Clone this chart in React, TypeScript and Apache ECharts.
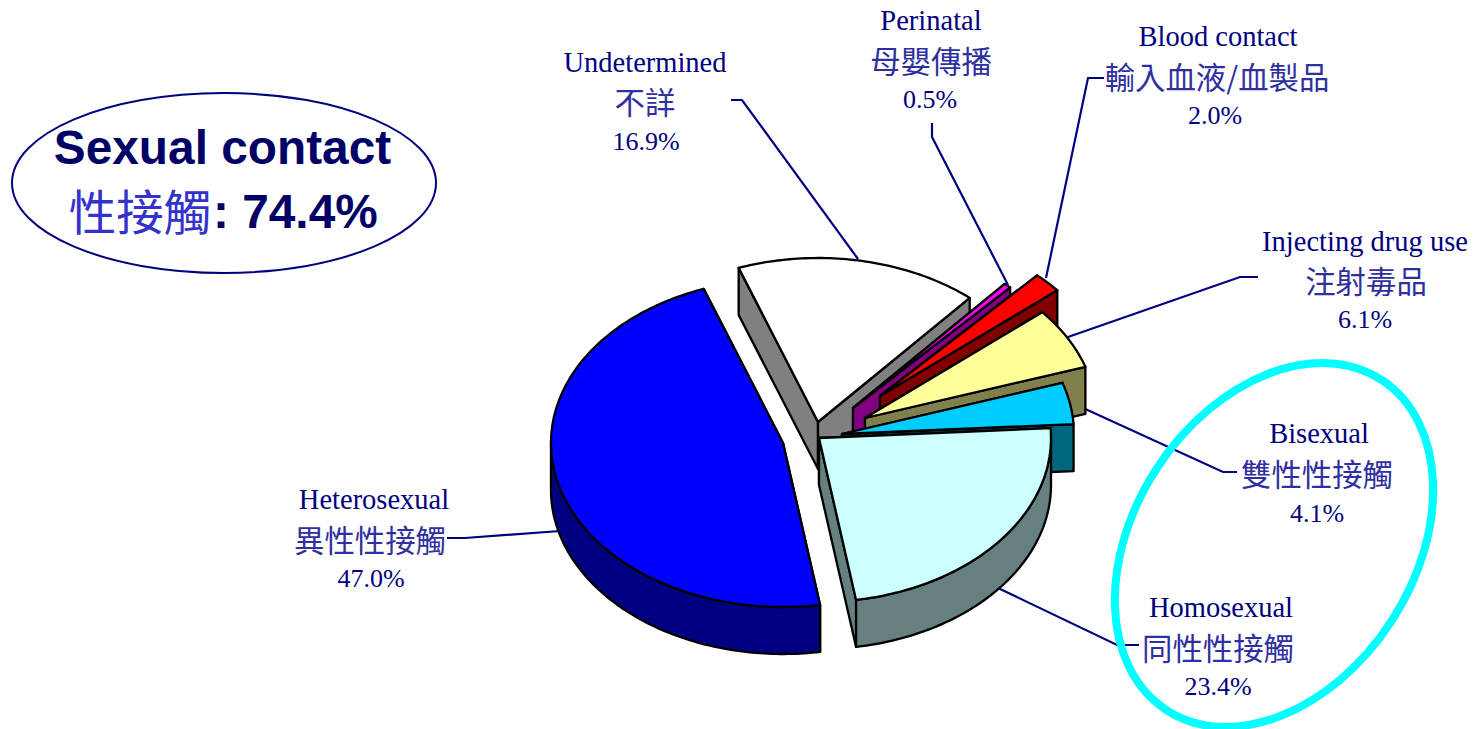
import React, { useEffect, useRef } from "react";
import * as echarts from "echarts";

// Data, in drawing order (clockwise, from the back of the pie)
const namesEn = ["Undetermined", "Perinatal", "Blood contact", "Injecting drug use", "Bisexual", "Homosexual", "Heterosexual"];
const namesZh = ["不詳", "母嬰傳播", "輸入血液/血製品", "注射毒品", "雙性性接觸", "同性性接觸", "異性性接觸"];
const shares = [16.9, 0.5, 2.0, 6.1, 4.1, 23.4, 47.0];
const titleEn = "Sexual contact";
const titleZh = "性接觸";
const titleShare = ": 74.4%";

// Styles
const topColors = ["#FFFFFF", "#FF00FF", "#FF0000", "#FFFF99", "#00CCFF", "#CCFFFF", "#0000FF"];
const sideColors = ["#808080", "#800080", "#800000", "#80804D", "#006680", "#668080", "#000080"];

// Pie geometry: an elliptical pie whose slices are pulled out by different amounts
const RX = 232;
const RY = 164;
const DEPTH = 47;
const START_DEG = -110;
const apexX = [818, 853, 880, 865, 842, 819, 783];
const apexY = [422, 408, 396, 418, 434, 438, 443];

// Label placement: centre x for each line, and the y of the three lines
const labelX = [
  [645, 645, 646],
  [931, 931, 930],
  [1218, 1217, 1215],
  [1365, 1366, 1365],
  [1319, 1317, 1317],
  [1221, 1218, 1218],
  [374, 370, 371],
];
const labelY = [
  [62, 101, 141],
  [20, 60, 99],
  [36, 76, 115],
  [241, 280, 319],
  [433, 473, 513],
  [607, 647, 686],
  [499, 539, 578],
];
const leaders = [
  [[731, 100], [742, 100], [858, 259]],
  [[932, 123], [932, 137], [1008, 285]],
  [[1104, 78], [1088, 78], [1046, 278]],
  [[1258, 277], [1240, 277], [1068, 337]],
  [[1237, 472], [1223, 472], [1070, 402]],
  [[1139, 645], [1117, 645], [998, 588]],
  [[447, 538], [465, 538], [560, 531]],
];

const NAVY = "#000080";
const TITLE_NAVY = "#000066";
const LATIN = '"Liberation Serif", serif';
const CJK = '"Noto Sans CJK TC", sans-serif';
const SANS = '"Liberation Sans", Arial, sans-serif';
const EDGE = 2.3;

function arc(cx: number, cy: number, from: number, to: number) {
  const pts: number[][] = [];
  const n = Math.max(2, Math.ceil(to - from));
  for (let i = 0; i <= n; i++) {
    const t = ((from + ((to - from) * i) / n) * Math.PI) / 180;
    pts.push([cx + RX * Math.cos(t), cy + RY * Math.sin(t)]);
  }
  return pts;
}

export default function App() {
  const ref = useRef<HTMLDivElement>(null);

  useEffect(() => {
    document.body.style.margin = "0";
    const chart = echarts.init(ref.current!, undefined, { renderer: "svg" });
    const total = shares.reduce((a, b) => a + b, 0);
    const startOf = (i: number) =>
      START_DEG + (shares.slice(0, i).reduce((a, b) => a + b, 0) / total) * 360;

    const renderItem = (params: any, api: any) => {
      const i = params.dataIndex;
      const value = api.value(0);
      const a0 = startOf(i);
      const a1 = a0 + (value / total) * 360;
      const cx = apexX[i];
      const cy = apexY[i];
      const top = arc(cx, cy, a0, a1);
      const sideStyle = { fill: sideColors[i], stroke: "#000", lineWidth: EDGE, lineJoin: "round" };
      const first = top[0];
      const last = top[top.length - 1];
      const faceStart = [[cx, cy], first, [first[0], first[1] + DEPTH], [cx, cy + DEPTH]];
      const faceEnd = [[cx, cy], last, [last[0], last[1] + DEPTH], [cx, cy + DEPTH]];
      const children: any[] = [
        { type: "polygon", shape: { points: faceStart }, style: sideStyle },
        { type: "polygon", shape: { points: faceEnd }, style: sideStyle },
      ];
      // only the front half of the rim can be seen
      const w0 = Math.max(a0, 0);
      const w1 = Math.min(a1, 180);
      if (w1 > w0) {
        const upper = arc(cx, cy, w0, w1);
        const lower = arc(cx, cy + DEPTH, w0, w1);
        children.push({
          type: "polygon",
          shape: { points: [...upper, ...lower.slice().reverse()] },
          style: sideStyle,
        });
      }
      children.push({
        type: "polygon",
        shape: { points: [[cx, cy], ...top] },
        style: { fill: topColors[i], stroke: "#000", lineWidth: EDGE, lineJoin: "round" },
      });
      return { type: "group", children };
    };

    const labelText = (text: string, x: number, y: number, font: string, size: number, fill: string) => ({
      type: "text",
      x,
      y,
      silent: true,
      style: { text, fill, font: `${size}px ${font}`, textAlign: "center", textVerticalAlign: "middle" },
    });

    const labels: any[] = [];
    shares.forEach((v, i) => {
      labels.push(labelText(namesEn[i], labelX[i][0], labelY[i][0], LATIN, 28.5, NAVY));
      labels.push(labelText(namesZh[i], labelX[i][1], labelY[i][1], CJK, 30.4, "#2F2FA0"));
      labels.push(labelText(`${v.toFixed(1)}%`, labelX[i][2], labelY[i][2], LATIN, 26, NAVY));
    });

    const leaderLines = leaders.map((points) => ({
      type: "polyline",
      silent: true,
      shape: { points },
      style: { stroke: NAVY, lineWidth: 2.2, fill: "none" },
    }));

    chart.setOption({
      animation: false,
      backgroundColor: "#fff",
      series: [
        {
          type: "custom",
          coordinateSystem: "none",
          silent: true,
          data: shares.map((v, i) => ({ name: namesEn[i], value: [v] })),
          renderItem,
          z: 2,
        },
      ],
      graphic: {
        elements: [
          ...leaderLines.map((l) => ({ ...l, z: 1 })),
          ...labels.map((l) => ({ ...l, z: 3 })),
          {
            type: "ellipse",
            silent: true,
            z: 3,
            shape: { cx: 224, cy: 183, rx: 212, ry: 90 },
            style: { fill: "none", stroke: NAVY, lineWidth: 2 },
          },
          {
            type: "ellipse",
            silent: true,
            z: 4,
            x: 1274,
            y: 545,
            rotation: (56.9 * Math.PI) / 180,
            shape: { cx: 0, cy: 0, rx: 197, ry: 140 },
            style: { fill: "none", stroke: "#00FFFF", lineWidth: 8 },
          },
          {
            type: "text",
            silent: true,
            z: 5,
            x: 222.5,
            y: 147,
            style: {
              text: titleEn,
              fill: TITLE_NAVY,
              font: `bold 47.8px ${SANS}`,
              textAlign: "center",
              textVerticalAlign: "middle",
            },
          },
          {
            type: "text",
            silent: true,
            z: 5,
            x: 140,
            y: 209,
            style: {
              text: titleZh,
              fill: "#3333CC",
              font: `47.5px ${CJK}`,
              textAlign: "center",
              textVerticalAlign: "middle",
            },
          },
          {
            type: "text",
            silent: true,
            z: 5,
            x: 213,
            y: 211,
            style: {
              text: titleShare,
              fill: TITLE_NAVY,
              font: `bold 47.8px ${SANS}`,
              textAlign: "left",
              textVerticalAlign: "middle",
            },
          },
        ],
      },
    });
    return () => chart.dispose();
  }, []);

  return <div ref={ref} style={{ position: "absolute", left: 0, top: 0, width: 1475, height: 729 }} />;
}
